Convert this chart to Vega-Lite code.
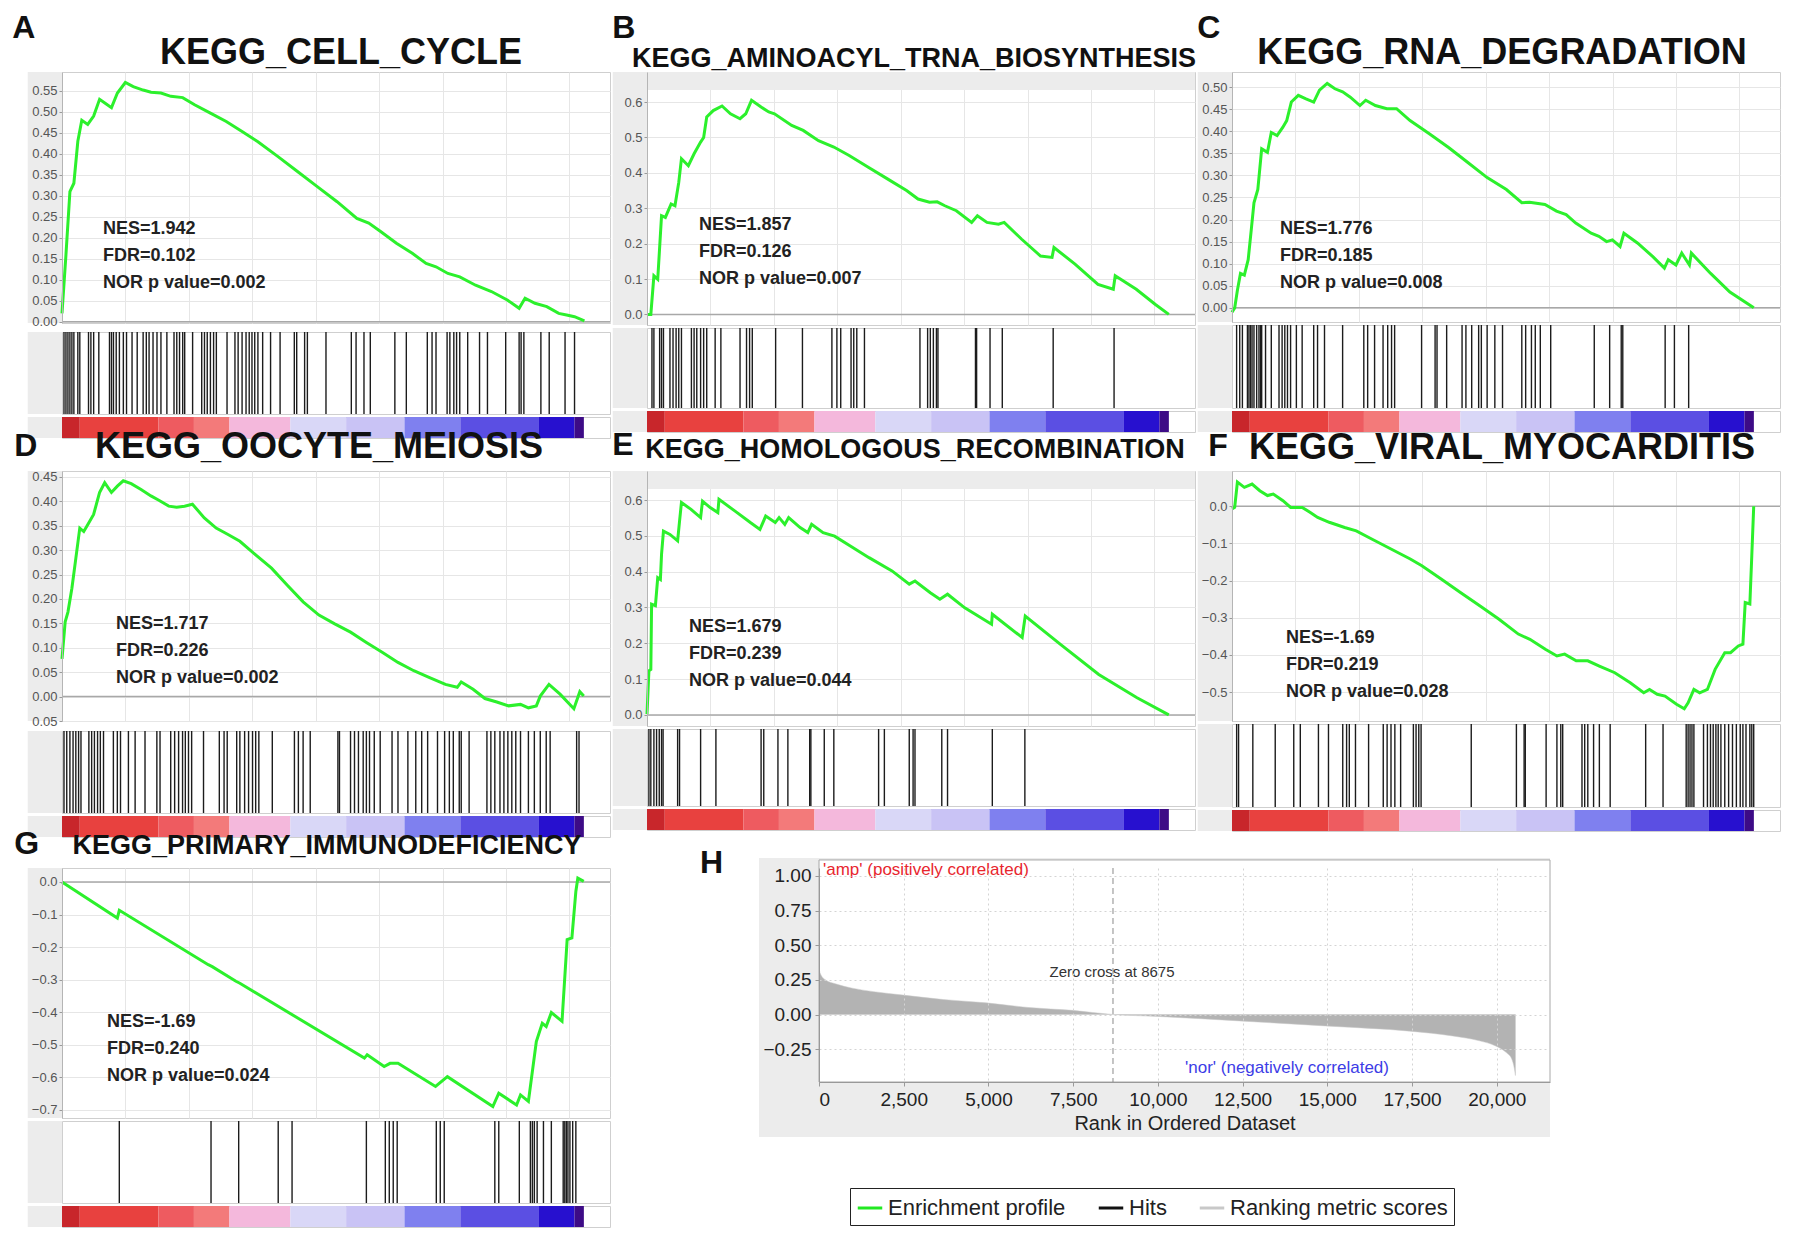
{
  "$schema": "https://vega.github.io/schema/vega-lite/v6.json",
  "padding": {"left": 12, "top": 11, "right": 5, "bottom": 5},
  "background": "white",
  "config": {
    "font": "Liberation Sans",
    "view": {"stroke": "#cfcfcf"},
    "title": {"font": "Liberation Sans", "fontWeight": "bold", "color": "#111111", "anchor": "middle", "frame": "group"},
    "axis": {"labelFont": "Liberation Sans", "labelFontSize": 13, "labelColor": "#555555", "labelOverlap": false, "tickColor": "#9a9a9a", "tickSize": 3, "labelPadding": 2, "domainColor": "#b5b5b5", "gridColor": "#e6e6e6", "titleFont": "Liberation Sans"}
  },
  "datasets": {
    "bar": [
      {"seg": 1, "start": 0, "end": 700},
      {"seg": 2, "start": 700, "end": 3800},
      {"seg": 3, "start": 3800, "end": 5200},
      {"seg": 4, "start": 5200, "end": 6600},
      {"seg": 5, "start": 6600, "end": 9000},
      {"seg": 6, "start": 9000, "end": 11200},
      {"seg": 7, "start": 11200, "end": 13500},
      {"seg": 8, "start": 13500, "end": 15700},
      {"seg": 9, "start": 15700, "end": 18800},
      {"seg": 10, "start": 18800, "end": 20200},
      {"seg": 11, "start": 20200, "end": 20570}
    ],
    "hits": [
      {"p": "A", "r": [78,156,234,312,390,468,624,702,1045,1139,1248,1451,1872,1950,2028,2137,2262,2418,2543,2761,2964,3198,3323,3432,3588,3744,3900,4134,4415,4524,4633,4758,4836,5148,5507,5616,5725,5850,5975,6084,6505,6817,6942,7098,7254,7379,7488,7597,7722,7909,8221,8596,9157,9251,9563,9672,10405,11404,11591,11903,12152,13120,13572,14399,14586,14742,15179,15288,15444,15553,15678,15990,16458,16770,17488,18018,18096,18205,18876,19204,19828,20202]},
      {"p": "B", "r": [196,272,498,573,649,905,1026,1147,1252,1358,1750,1856,1962,2113,2233,2354,2686,2912,3667,3923,4044,4150,5070,6127,7288,7485,7636,8043,8149,8269,8571,10759,11061,11167,11287,11408,11468,12947,12992,13521,14004,16010,18410]},
      {"p": "C", "r": [182,304,410,608,668,729,790,866,972,1063,1124,1170,1322,1549,1853,1975,2081,2187,2309,2537,2765,3220,3372,3646,4360,5195,5347,5620,5954,6137,6289,6410,7473,8005,8081,8461,9068,9220,9448,9722,9828,10056,10360,10663,11423,11575,11803,11954,12152,12562,14279,14886,15342,15403,17073,17438,18000]},
      {"p": "D", "r": [78,187,312,436,545,654,748,1059,1169,1278,1402,1511,1636,2025,2181,2306,2618,2882,3272,3739,3864,4285,4440,4596,4752,4861,4986,5110,5578,6201,6388,6512,6886,7011,7198,7354,7510,7634,7759,8289,9161,9317,9504,9784,10875,10937,11373,11529,11685,11872,11997,12121,12308,12542,13009,13243,13633,13944,14178,14412,14801,15081,15268,15424,15658,15736,16047,16749,16904,17060,17263,17418,17574,17730,17886,18073,18384,18618,18852,19086,19241,20285,20379]},
      {"p": "E", "r": [75,151,272,377,483,573,634,1207,1283,2113,2716,4497,4602,5161,5553,6413,6459,6987,7364,9129,9356,10337,10488,10563,11619,11846,13611,14894]},
      {"p": "F", "r": [183,259,821,1704,2434,2692,3407,3803,4365,4517,4624,4867,5384,5962,6114,6267,6419,6647,7149,7255,7362,7453,9430,11210,11514,11560,12381,12807,12959,13035,13795,13902,14024,14252,14480,14906,16305,16990,17902,17978,18054,18130,18206,18586,18739,18860,18967,19073,19164,19271,19423,19575,19727,19880,20032,20138,20260,20412,20488,20564]},
      {"p": "G", "r": [2259,5874,6964,8522,9068,11997,12744,12900,13056,13212,14754,14910,15066,17060,17216,18026,18462,18540,18618,18728,18977,19288,19755,19818,19880,19942,20020,20129,20254]}
    ],
    "esA": [
      {"r":0,"e":0.02},{"r":156,"e":0.16},{"r":312,"e":0.31},{"r":468,"e":0.33},{"r":624,"e":0.43},{"r":780,"e":0.48},
      {"r":1014,"e":0.47},{"r":1248,"e":0.49},{"r":1482,"e":0.53},{"r":1716,"e":0.52},{"r":1950,"e":0.51},
      {"r":2184,"e":0.545},{"r":2496,"e":0.57},{"r":2808,"e":0.56},{"r":3198,"e":0.552},{"r":3510,"e":0.547},
      {"r":3900,"e":0.545},{"r":4290,"e":0.537},{"r":4758,"e":0.534},{"r":5226,"e":0.517},{"r":5850,"e":0.497},
      {"r":6474,"e":0.477},{"r":7098,"e":0.453},{"r":7722,"e":0.429},{"r":8502,"e":0.394},{"r":9282,"e":0.358},
      {"r":10062,"e":0.322},{"r":10842,"e":0.286},{"r":11622,"e":0.246},{"r":12090,"e":0.235},{"r":12558,"e":0.215},
      {"r":13182,"e":0.187},{"r":13806,"e":0.163},{"r":14352,"e":0.139},{"r":14742,"e":0.131},{"r":15210,"e":0.115},
      {"r":15678,"e":0.107},{"r":16302,"e":0.087},{"r":16926,"e":0.072},{"r":17550,"e":0.052},{"r":18018,"e":0.032},
      {"r":18252,"e":0.056},{"r":18642,"e":0.044},{"r":19110,"e":0.036},{"r":19578,"e":0.02},{"r":19890,"e":0.016},
      {"r":20202,"e":0.012},{"r":20592,"e":0.002}
    ],
    "esB": [
      {"r":0,"e":0},{"r":151,"e":0},{"r":272,"e":0.109},{"r":423,"e":0.099},{"r":573,"e":0.279},{"r":724,"e":0.274},
      {"r":951,"e":0.312},{"r":1102,"e":0.307},{"r":1252,"e":0.373},{"r":1358,"e":0.44},{"r":1630,"e":0.42},
      {"r":1856,"e":0.454},{"r":2113,"e":0.487},{"r":2233,"e":0.5},{"r":2354,"e":0.558},{"r":2611,"e":0.576},
      {"r":2958,"e":0.589},{"r":3290,"e":0.567},{"r":3667,"e":0.553},{"r":3893,"e":0.567},{"r":4120,"e":0.605},
      {"r":4497,"e":0.586},{"r":4799,"e":0.572},{"r":5025,"e":0.567},{"r":5704,"e":0.534},{"r":6157,"e":0.52},
      {"r":6760,"e":0.491},{"r":7364,"e":0.473},{"r":7968,"e":0.449},{"r":8722,"e":0.416},{"r":9477,"e":0.383},
      {"r":10231,"e":0.35},{"r":10684,"e":0.326},{"r":11136,"e":0.317},{"r":11438,"e":0.318},{"r":11740,"e":0.307},
      {"r":12193,"e":0.293},{"r":12796,"e":0.26},{"r":13023,"e":0.279},{"r":13400,"e":0.26},{"r":13853,"e":0.255},
      {"r":14079,"e":0.26},{"r":14758,"e":0.213},{"r":15513,"e":0.165},{"r":15965,"e":0.161},{"r":16041,"e":0.189},
      {"r":16871,"e":0.142},{"r":17776,"e":0.085},{"r":18380,"e":0.071},{"r":18455,"e":0.109},{"r":19285,"e":0.071},
      {"r":20040,"e":0.028},{"r":20568,"e":0}
    ],
    "esC": [
      {"r":0,"e":-0.01},{"r":106,"e":0},{"r":213,"e":0.04},{"r":334,"e":0.078},{"r":486,"e":0.074},{"r":638,"e":0.109},
      {"r":760,"e":0.177},{"r":866,"e":0.238},{"r":1018,"e":0.268},{"r":1170,"e":0.36},{"r":1397,"e":0.352},
      {"r":1549,"e":0.397},{"r":1777,"e":0.39},{"r":2005,"e":0.409},{"r":2157,"e":0.424},{"r":2339,"e":0.466},
      {"r":2613,"e":0.481},{"r":2916,"e":0.473},{"r":3220,"e":0.466},{"r":3448,"e":0.493},{"r":3752,"e":0.508},
      {"r":4056,"e":0.496},{"r":4360,"e":0.489},{"r":4663,"e":0.477},{"r":5043,"e":0.458},{"r":5271,"e":0.47},
      {"r":5651,"e":0.458},{"r":6106,"e":0.451},{"r":6486,"e":0.451},{"r":7018,"e":0.424},{"r":7777,"e":0.394},
      {"r":8537,"e":0.363},{"r":9296,"e":0.329},{"r":10056,"e":0.295},{"r":10815,"e":0.268},{"r":11423,"e":0.238},
      {"r":11727,"e":0.239},{"r":12334,"e":0.234},{"r":12790,"e":0.219},{"r":13170,"e":0.211},{"r":13549,"e":0.192},
      {"r":14157,"e":0.169},{"r":14461,"e":0.162},{"r":14765,"e":0.15},{"r":14992,"e":0.154},{"r":15296,"e":0.139},
      {"r":15448,"e":0.169},{"r":15980,"e":0.147},{"r":16587,"e":0.116},{"r":17043,"e":0.09},{"r":17195,"e":0.109},
      {"r":17499,"e":0.097},{"r":17727,"e":0.124},{"r":18030,"e":0.097},{"r":18106,"e":0.124},{"r":18866,"e":0.078},
      {"r":19625,"e":0.036},{"r":20567,"e":0}
    ],
    "esD": [
      {"r":0,"e":0.077},{"r":125,"e":0.153},{"r":234,"e":0.173},{"r":390,"e":0.222},{"r":545,"e":0.283},{"r":701,"e":0.345},
      {"r":857,"e":0.338},{"r":1013,"e":0.352},{"r":1246,"e":0.373},{"r":1480,"e":0.418},{"r":1683,"e":0.438},
      {"r":1948,"e":0.418},{"r":2181,"e":0.431},{"r":2415,"e":0.442},{"r":2727,"e":0.436},{"r":3116,"e":0.424},
      {"r":3506,"e":0.411},{"r":3817,"e":0.402},{"r":4207,"e":0.39},{"r":4518,"e":0.388},{"r":4830,"e":0.39},
      {"r":5141,"e":0.394},{"r":5609,"e":0.366},{"r":6076,"e":0.345},{"r":6544,"e":0.332},{"r":7011,"e":0.318},
      {"r":7634,"e":0.29},{"r":8258,"e":0.263},{"r":8881,"e":0.228},{"r":9504,"e":0.194},{"r":10127,"e":0.167},
      {"r":10750,"e":0.149},{"r":11373,"e":0.132},{"r":11997,"e":0.111},{"r":12620,"e":0.091},{"r":13243,"e":0.07},
      {"r":13866,"e":0.053},{"r":14489,"e":0.039},{"r":15113,"e":0.025},{"r":15580,"e":0.019},{"r":15736,"e":0.03},
      {"r":16203,"e":0.015},{"r":16671,"e":-0.004},{"r":17138,"e":-0.011},{"r":17605,"e":-0.019},{"r":18073,"e":-0.016},
      {"r":18384,"e":-0.023},{"r":18696,"e":-0.019},{"r":18852,"e":0.001},{"r":19194,"e":0.025},{"r":19631,"e":0.005},
      {"r":20176,"e":-0.025},{"r":20410,"e":0.01},{"r":20566,"e":0.001}
    ],
    "esE": [
      {"r":0,"e":0.002},{"r":75,"e":0.123},{"r":151,"e":0.127},{"r":181,"e":0.309},{"r":332,"e":0.305},{"r":423,"e":0.383},
      {"r":528,"e":0.378},{"r":573,"e":0.448},{"r":649,"e":0.513},{"r":905,"e":0.504},{"r":1207,"e":0.486},
      {"r":1283,"e":0.541},{"r":1358,"e":0.593},{"r":1735,"e":0.574},{"r":2113,"e":0.551},{"r":2188,"e":0.597},
      {"r":2490,"e":0.579},{"r":2792,"e":0.565},{"r":2837,"e":0.602},{"r":3471,"e":0.569},{"r":4074,"e":0.537},
      {"r":4452,"e":0.518},{"r":4678,"e":0.555},{"r":5055,"e":0.537},{"r":5206,"e":0.551},{"r":5432,"e":0.532},
      {"r":5583,"e":0.551},{"r":6036,"e":0.523},{"r":6338,"e":0.509},{"r":6489,"e":0.532},{"r":6941,"e":0.509},
      {"r":7394,"e":0.499},{"r":7998,"e":0.472},{"r":8752,"e":0.439},{"r":9658,"e":0.402},{"r":10337,"e":0.365},
      {"r":10563,"e":0.374},{"r":11167,"e":0.341},{"r":11544,"e":0.323},{"r":11846,"e":0.337},{"r":12525,"e":0.299},
      {"r":13581,"e":0.253},{"r":13611,"e":0.281},{"r":14788,"e":0.216},{"r":14909,"e":0.276},{"r":16297,"e":0.197},
      {"r":17806,"e":0.113},{"r":19315,"e":0.048},{"r":20567,"e":0}
    ],
    "esF": [
      {"r":0,"e":-0.007},{"r":106,"e":-0.003},{"r":213,"e":0.065},{"r":487,"e":0.051},{"r":791,"e":0.06},{"r":1095,"e":0.042},
      {"r":1399,"e":0.029},{"r":1627,"e":0.033},{"r":2008,"e":0.015},{"r":2312,"e":-0.003},{"r":2768,"e":-0.003},
      {"r":3072,"e":-0.016},{"r":3377,"e":-0.03},{"r":3833,"e":-0.043},{"r":4441,"e":-0.057},{"r":4898,"e":-0.066},
      {"r":5506,"e":-0.088},{"r":6267,"e":-0.115},{"r":7027,"e":-0.142},{"r":7483,"e":-0.16},{"r":8244,"e":-0.196},
      {"r":9004,"e":-0.232},{"r":9765,"e":-0.268},{"r":10525,"e":-0.304},{"r":11286,"e":-0.344},{"r":11742,"e":-0.358},
      {"r":12351,"e":-0.385},{"r":12807,"e":-0.403},{"r":13111,"e":-0.398},{"r":13567,"e":-0.416},{"r":14024,"e":-0.416},
      {"r":14480,"e":-0.43},{"r":15088,"e":-0.448},{"r":15697,"e":-0.475},{"r":16229,"e":-0.502},{"r":16457,"e":-0.493},
      {"r":16761,"e":-0.506},{"r":17066,"e":-0.511},{"r":17522,"e":-0.533},{"r":17826,"e":-0.545},{"r":17978,"e":-0.529},
      {"r":18206,"e":-0.493},{"r":18435,"e":-0.502},{"r":18739,"e":-0.493},{"r":19043,"e":-0.439},{"r":19423,"e":-0.394},
      {"r":19651,"e":-0.394},{"r":19956,"e":-0.376},{"r":20138,"e":-0.371},{"r":20229,"e":-0.259},{"r":20412,"e":-0.263},
      {"r":20488,"e":-0.133},{"r":20564,"e":0}
    ],
    "esG": [
      {"r":0,"e":0},{"r":2181,"e":-0.111},{"r":2259,"e":-0.087},{"r":5765,"e":-0.254},{"r":5921,"e":-0.26},
      {"r":6855,"e":-0.305},{"r":7011,"e":-0.311},{"r":11919,"e":-0.541},{"r":12028,"e":-0.531},{"r":12698,"e":-0.567},
      {"r":12931,"e":-0.557},{"r":13243,"e":-0.557},{"r":14723,"e":-0.628},{"r":15191,"e":-0.598},{"r":16982,"e":-0.69},
      {"r":17216,"e":-0.649},{"r":17917,"e":-0.685},{"r":18073,"e":-0.654},{"r":18384,"e":-0.674},{"r":18696,"e":-0.49},
      {"r":18930,"e":-0.434},{"r":19086,"e":-0.444},{"r":19288,"e":-0.401},{"r":19709,"e":-0.428},{"r":19911,"e":-0.177},
      {"r":20098,"e":-0.172},{"r":20254,"e":-0.029},{"r":20332,"e":0.012},{"r":20566,"e":0.002}
    ],
    "metric": [
      {"r":0,"s":0.34},{"r":32,"s":0.3},{"r":190,"s":0.25},{"r":506,"s":0.22},{"r":981,"s":0.19},{"r":1614,"s":0.165},
      {"r":2484,"s":0.14},{"r":3670,"s":0.108},{"r":4936,"s":0.084},{"r":6202,"s":0.05},{"r":7468,"s":0.03},
      {"r":8675,"s":0},{"r":10000,"s":-0.014},{"r":12529,"s":-0.048},{"r":15061,"s":-0.084},{"r":17432,"s":-0.12},
      {"r":18699,"s":-0.155},{"r":19490,"s":-0.19},{"r":19965,"s":-0.227},{"r":20281,"s":-0.275},{"r":20439,"s":-0.32},
      {"r":20518,"s":-0.39},{"r":20550,"s":-0.44}
    ]
  },
  "resolve": {"scale": {"fill": "independent", "stroke": "independent"}, "legend": {"fill": "independent", "stroke": "independent"}},
  "spacing": -11,
  "vconcat": [
    {
      "spacing": 0,
      "hconcat": [
        {
          "title": {"text": "A", "anchor": "start", "frame": "bounds", "fontSize": 32, "offset": -10, "dx": -15},
          "spacing": 0,
          "vconcat": [
            {
              "title": {"text": "KEGG_CELL_CYCLE", "fontSize": 36, "offset": 0, "dx": 5},
              "width": 548, "height": 251,
              "resolve": {"axis": {"y": "independent"}},
              "layer": [
                {"data": {"values": [{"a": -1350, "b": 0}]}, "mark": {"type": "rect", "color": "#ececec"},
                 "encoding": {"x": {"field": "a", "type": "quantitative", "scale": {"domain": [0, 21600], "nice": false, "zero": false}}, "x2": {"field": "b"}}},
                {"data": {"values": [{}]}, "mark": {"type": "rule", "color": "#a8a8a8", "strokeWidth": 1.5},
                 "encoding": {"y": {"datum": 0, "type": "quantitative", "scale": {"domain": [-0.003, 0.595], "nice": false, "zero": false}, "axis": {"orient": "left", "values": [0,0.05,0.1,0.15,0.2,0.25,0.3,0.35,0.4,0.45,0.5,0.55], "grid": true, "labels": false, "ticks": false, "domain": false, "title": null, "zindex": 0}}}},
                {"data": {"name": "esA"}, "mark": {"type": "line", "color": "#2cf02c", "strokeWidth": 3},
                 "encoding": {
                   "x": {"field": "r", "type": "quantitative", "scale": {"domain": [0, 21600], "nice": false, "zero": false}, "axis": {"values": [2500,5000,7500,10000,12500,15000,17500,20000], "labels": false, "ticks": false, "domain": false, "grid": true, "title": null, "zindex": 0}},
                   "y": {"field": "e", "type": "quantitative", "scale": {"domain": [-0.003, 0.595], "nice": false, "zero": false}, "axis": {"orient": "left", "values": [0,0.05,0.1,0.15,0.2,0.25,0.3,0.35,0.4,0.45,0.5,0.55], "format": ".2f", "labelOverlap": false, "grid": false, "title": null, "zindex": 1}}}},
                {"data": {"values": [{}]}, "mark": {"type": "text", "align": "left", "baseline": "middle", "fontSize": 18, "fontWeight": "bold", "lineHeight": 27, "color": "#222222"},
                 "encoding": {"x": {"datum": 1616, "type": "quantitative", "scale": {"domain": [0, 21600], "nice": false, "zero": false}}, "text": {"value": ["NES=1.942", "FDR=0.102", "NOR p value=0.002"]},
                   "y": {"datum": 0.221, "type": "quantitative", "scale": {"domain": [-0.003, 0.595], "nice": false, "zero": false}, "axis": null}}}
              ]
            },
            {
              "width": 548, "height": 82,
              "layer": [
                {"data": {"values": [{"a": -1350, "b": 0}]}, "mark": {"type": "rect", "color": "#ececec"},
                 "encoding": {"x": {"field": "a", "type": "quantitative", "scale": {"domain": [0, 21600], "nice": false, "zero": false}, "axis": null}, "x2": {"field": "b"}}},
                {"data": {"name": "hits"}, "transform": [{"filter": "datum.p == 'A'"}, {"flatten": ["r"]}], "mark": {"type": "rule", "color": "#1c1c1c", "strokeWidth": 1.4},
                 "encoding": {"x": {"field": "r", "type": "quantitative", "scale": {"domain": [0, 21600], "nice": false, "zero": false}, "axis": null}}}
              ]
            },
            {
              "width": 548, "height": 21,
              "layer": [
                {"data": {"values": [{"a": -1350, "b": 0}]}, "mark": {"type": "rect", "color": "#ececec"},
                 "encoding": {"x": {"field": "a", "type": "quantitative", "scale": {"domain": [0, 21600], "nice": false, "zero": false}, "axis": null}, "x2": {"field": "b"}}},
                {"data": {"name": "bar"}, "mark": {"type": "rect"},
                 "encoding": {"x": {"field": "start", "type": "quantitative", "scale": {"domain": [0, 21600], "nice": false, "zero": false}, "axis": null}, "x2": {"field": "end"},
                   "fill": {"field": "seg", "type": "ordinal", "scale": {"domain": [1,2,3,4,5,6,7,8,9,10,11], "range": ["#c8262b","#e8413f","#ee5b60","#f37a7a","#f4b8dc","#d9d7f7","#c9c3f5","#7f80ef","#5b4fe3","#2710cf","#3d0b86"]}, "legend": null}}}
              ]
            }
          ]
        },
        {
          "title": {"text": "B", "anchor": "start", "frame": "bounds", "fontSize": 32, "offset": 0},
          "spacing": 0,
          "vconcat": [
            {
              "title": {"text": "KEGG_AMINOACYL_TRNA_BIOSYNTHESIS", "fontSize": 27, "offset": -1, "dx": -7},
              "width": 548, "height": 253,
              "resolve": {"axis": {"y": "independent"}},
              "layer": [
                {"data": {"values": [{"a": -1350, "b": 0}]}, "mark": {"type": "rect", "color": "#ececec"},
                 "encoding": {"x": {"field": "a", "type": "quantitative", "scale": {"domain": [0, 21600], "nice": false, "zero": false}}, "x2": {"field": "b"}}},
                {"data": {"values": [{"a": 0, "b": 21600, "c": 0.634, "d": 0.685}]}, "mark": {"type": "rect", "color": "#ececec"},
                 "encoding": {"x": {"field": "a", "type": "quantitative", "scale": {"domain": [0, 21600], "nice": false, "zero": false}}, "x2": {"field": "b"}, "y": {"field": "c", "type": "quantitative", "scale": {"domain": [-0.03, 0.685], "nice": false, "zero": false}, "axis": null}, "y2": {"field": "d"}}},
                {"data": {"values": [{}]}, "mark": {"type": "rule", "color": "#a8a8a8", "strokeWidth": 1.5},
                 "encoding": {"y": {"datum": 0, "type": "quantitative", "scale": {"domain": [-0.03, 0.685], "nice": false, "zero": false}, "axis": {"orient": "left", "values": [0,0.1,0.2,0.3,0.4,0.5,0.6], "grid": true, "labels": false, "ticks": false, "domain": false, "title": null, "zindex": 0}}}},
                {"data": {"name": "esB"}, "mark": {"type": "line", "color": "#2cf02c", "strokeWidth": 3},
                 "encoding": {
                   "x": {"field": "r", "type": "quantitative", "scale": {"domain": [0, 21600], "nice": false, "zero": false}, "axis": {"values": [2500,5000,7500,10000,12500,15000,17500,20000], "labels": false, "ticks": false, "domain": false, "grid": true, "title": null, "zindex": 0}},
                   "y": {"field": "e", "type": "quantitative", "scale": {"domain": [-0.03, 0.685], "nice": false, "zero": false}, "axis": {"orient": "left", "values": [0,0.1,0.2,0.3,0.4,0.5,0.6], "format": ".1f", "labelOverlap": false, "grid": false, "title": null, "zindex": 1}}}},
                {"data": {"values": [{}]}, "mark": {"type": "text", "align": "left", "baseline": "middle", "fontSize": 18, "fontWeight": "bold", "lineHeight": 27, "color": "#222222"},
                 "encoding": {"x": {"datum": 2050, "type": "quantitative", "scale": {"domain": [0, 21600], "nice": false, "zero": false}}, "text": {"value": ["NES=1.857", "FDR=0.126", "NOR p value=0.007"]},
                   "y": {"datum": 0.252, "type": "quantitative", "scale": {"domain": [-0.03, 0.685], "nice": false, "zero": false}, "axis": null}}}
              ]
            },
            {
              "width": 548, "height": 80,
              "layer": [
                {"data": {"values": [{"a": -1350, "b": 0}]}, "mark": {"type": "rect", "color": "#ececec"},
                 "encoding": {"x": {"field": "a", "type": "quantitative", "scale": {"domain": [0, 21600], "nice": false, "zero": false}, "axis": null}, "x2": {"field": "b"}}},
                {"data": {"name": "hits"}, "transform": [{"filter": "datum.p == 'B'"}, {"flatten": ["r"]}], "mark": {"type": "rule", "color": "#1c1c1c", "strokeWidth": 1.4},
                 "encoding": {"x": {"field": "r", "type": "quantitative", "scale": {"domain": [0, 21600], "nice": false, "zero": false}, "axis": null}}}
              ]
            },
            {
              "width": 548, "height": 21,
              "layer": [
                {"data": {"values": [{"a": -1350, "b": 0}]}, "mark": {"type": "rect", "color": "#ececec"},
                 "encoding": {"x": {"field": "a", "type": "quantitative", "scale": {"domain": [0, 21600], "nice": false, "zero": false}, "axis": null}, "x2": {"field": "b"}}},
                {"data": {"name": "bar"}, "mark": {"type": "rect"},
                 "encoding": {"x": {"field": "start", "type": "quantitative", "scale": {"domain": [0, 21600], "nice": false, "zero": false}, "axis": null}, "x2": {"field": "end"},
                   "fill": {"field": "seg", "type": "ordinal", "scale": {"domain": [1,2,3,4,5,6,7,8,9,10,11], "range": ["#c8262b","#e8413f","#ee5b60","#f37a7a","#f4b8dc","#d9d7f7","#c9c3f5","#7f80ef","#5b4fe3","#2710cf","#3d0b86"]}, "legend": null}}}
              ]
            }
          ]
        },
        {
          "title": {"text": "C", "anchor": "start", "frame": "bounds", "fontSize": 32, "offset": -10},
          "spacing": 0,
          "vconcat": [
            {
              "title": {"text": "KEGG_RNA_DEGRADATION", "fontSize": 36, "offset": 0, "dx": -4},
              "width": 548, "height": 250,
              "resolve": {"axis": {"y": "independent"}},
              "layer": [
                {"data": {"values": [{"a": -1350, "b": 0}]}, "mark": {"type": "rect", "color": "#ececec"},
                 "encoding": {"x": {"field": "a", "type": "quantitative", "scale": {"domain": [0, 21600], "nice": false, "zero": false}}, "x2": {"field": "b"}}},
                {"data": {"values": [{}]}, "mark": {"type": "rule", "color": "#a8a8a8", "strokeWidth": 1.5},
                 "encoding": {"y": {"datum": 0, "type": "quantitative", "scale": {"domain": [-0.032, 0.534], "nice": false, "zero": false}, "axis": {"orient": "left", "values": [0,0.05,0.1,0.15,0.2,0.25,0.3,0.35,0.4,0.45,0.5], "grid": true, "labels": false, "ticks": false, "domain": false, "title": null, "zindex": 0}}}},
                {"data": {"name": "esC"}, "mark": {"type": "line", "color": "#2cf02c", "strokeWidth": 3},
                 "encoding": {
                   "x": {"field": "r", "type": "quantitative", "scale": {"domain": [0, 21600], "nice": false, "zero": false}, "axis": {"values": [2500,5000,7500,10000,12500,15000,17500,20000], "labels": false, "ticks": false, "domain": false, "grid": true, "title": null, "zindex": 0}},
                   "y": {"field": "e", "type": "quantitative", "scale": {"domain": [-0.032, 0.534], "nice": false, "zero": false}, "axis": {"orient": "left", "values": [0,0.05,0.1,0.15,0.2,0.25,0.3,0.35,0.4,0.45,0.5], "format": ".2f", "labelOverlap": false, "grid": false, "title": null, "zindex": 1}}}},
                {"data": {"values": [{}]}, "mark": {"type": "text", "align": "left", "baseline": "middle", "fontSize": 18, "fontWeight": "bold", "lineHeight": 27, "color": "#222222"},
                 "encoding": {"x": {"datum": 1892, "type": "quantitative", "scale": {"domain": [0, 21600], "nice": false, "zero": false}}, "text": {"value": ["NES=1.776", "FDR=0.185", "NOR p value=0.008"]},
                   "y": {"datum": 0.178, "type": "quantitative", "scale": {"domain": [-0.032, 0.534], "nice": false, "zero": false}, "axis": null}}}
              ]
            },
            {
              "width": 548, "height": 83,
              "layer": [
                {"data": {"values": [{"a": -1350, "b": 0}]}, "mark": {"type": "rect", "color": "#ececec"},
                 "encoding": {"x": {"field": "a", "type": "quantitative", "scale": {"domain": [0, 21600], "nice": false, "zero": false}, "axis": null}, "x2": {"field": "b"}}},
                {"data": {"name": "hits"}, "transform": [{"filter": "datum.p == 'C'"}, {"flatten": ["r"]}], "mark": {"type": "rule", "color": "#1c1c1c", "strokeWidth": 1.4},
                 "encoding": {"x": {"field": "r", "type": "quantitative", "scale": {"domain": [0, 21600], "nice": false, "zero": false}, "axis": null}}}
              ]
            },
            {
              "width": 548, "height": 21,
              "layer": [
                {"data": {"values": [{"a": -1350, "b": 0}]}, "mark": {"type": "rect", "color": "#ececec"},
                 "encoding": {"x": {"field": "a", "type": "quantitative", "scale": {"domain": [0, 21600], "nice": false, "zero": false}, "axis": null}, "x2": {"field": "b"}}},
                {"data": {"name": "bar"}, "mark": {"type": "rect"},
                 "encoding": {"x": {"field": "start", "type": "quantitative", "scale": {"domain": [0, 21600], "nice": false, "zero": false}, "axis": null}, "x2": {"field": "end"},
                   "fill": {"field": "seg", "type": "ordinal", "scale": {"domain": [1,2,3,4,5,6,7,8,9,10,11], "range": ["#c8262b","#e8413f","#ee5b60","#f37a7a","#f4b8dc","#d9d7f7","#c9c3f5","#7f80ef","#5b4fe3","#2710cf","#3d0b86"]}, "legend": null}}}
              ]
            }
          ]
        }
      ]
    },
    {
      "spacing": 0,
      "hconcat": [
        {
          "title": {"text": "D", "anchor": "start", "frame": "bounds", "fontSize": 32, "offset": -35, "dx": -13},
          "spacing": 0,
          "vconcat": [
            {
              "title": {"text": "KEGG_OOCYTE_MEIOSIS", "fontSize": 36, "offset": 5, "dx": -17},
              "width": 548, "height": 250,
              "resolve": {"axis": {"y": "independent"}},
              "layer": [
                {"data": {"values": [{"a": -1350, "b": 0}]}, "mark": {"type": "rect", "color": "#ececec"},
                 "encoding": {"x": {"field": "a", "type": "quantitative", "scale": {"domain": [0, 21600], "nice": false, "zero": false}}, "x2": {"field": "b"}}},
                {"data": {"values": [{}]}, "mark": {"type": "rule", "color": "#a8a8a8", "strokeWidth": 1.5},
                 "encoding": {"y": {"datum": 0, "type": "quantitative", "scale": {"domain": [-0.05, 0.462], "nice": false, "zero": false}, "axis": {"orient": "left", "values": [-0.05,0,0.05,0.1,0.15,0.2,0.25,0.3,0.35,0.4,0.45], "grid": true, "labels": false, "ticks": false, "domain": false, "title": null, "zindex": 0}}}},
                {"data": {"name": "esD"}, "mark": {"type": "line", "color": "#2cf02c", "strokeWidth": 3},
                 "encoding": {
                   "x": {"field": "r", "type": "quantitative", "scale": {"domain": [0, 21600], "nice": false, "zero": false}, "axis": {"values": [2500,5000,7500,10000,12500,15000,17500,20000], "labels": false, "ticks": false, "domain": false, "grid": true, "title": null, "zindex": 0}},
                   "y": {"field": "e", "type": "quantitative", "scale": {"domain": [-0.05, 0.462], "nice": false, "zero": false}, "axis": {"orient": "left", "values": [-0.05,0,0.05,0.1,0.15,0.2,0.25,0.3,0.35,0.4,0.45], "labelExpr": "format(abs(datum.value), '.2f')", "labelOverlap": false, "grid": false, "title": null, "zindex": 1}}}},
                {"data": {"values": [{}]}, "mark": {"type": "text", "align": "left", "baseline": "middle", "fontSize": 18, "fontWeight": "bold", "lineHeight": 27, "color": "#222222"},
                 "encoding": {"x": {"datum": 2128, "type": "quantitative", "scale": {"domain": [0, 21600], "nice": false, "zero": false}}, "text": {"value": ["NES=1.717", "FDR=0.226", "NOR p value=0.002"]},
                   "y": {"datum": 0.148, "type": "quantitative", "scale": {"domain": [-0.05, 0.462], "nice": false, "zero": false}, "axis": null}}}
              ]
            },
            {
              "width": 548, "height": 82,
              "layer": [
                {"data": {"values": [{"a": -1350, "b": 0}]}, "mark": {"type": "rect", "color": "#ececec"},
                 "encoding": {"x": {"field": "a", "type": "quantitative", "scale": {"domain": [0, 21600], "nice": false, "zero": false}, "axis": null}, "x2": {"field": "b"}}},
                {"data": {"name": "hits"}, "transform": [{"filter": "datum.p == 'D'"}, {"flatten": ["r"]}], "mark": {"type": "rule", "color": "#1c1c1c", "strokeWidth": 1.4},
                 "encoding": {"x": {"field": "r", "type": "quantitative", "scale": {"domain": [0, 21600], "nice": false, "zero": false}, "axis": null}}}
              ]
            },
            {
              "width": 548, "height": 21,
              "layer": [
                {"data": {"values": [{"a": -1350, "b": 0}]}, "mark": {"type": "rect", "color": "#ececec"},
                 "encoding": {"x": {"field": "a", "type": "quantitative", "scale": {"domain": [0, 21600], "nice": false, "zero": false}, "axis": null}, "x2": {"field": "b"}}},
                {"data": {"name": "bar"}, "mark": {"type": "rect"},
                 "encoding": {"x": {"field": "start", "type": "quantitative", "scale": {"domain": [0, 21600], "nice": false, "zero": false}, "axis": null}, "x2": {"field": "end"},
                   "fill": {"field": "seg", "type": "ordinal", "scale": {"domain": [1,2,3,4,5,6,7,8,9,10,11], "range": ["#c8262b","#e8413f","#ee5b60","#f37a7a","#f4b8dc","#d9d7f7","#c9c3f5","#7f80ef","#5b4fe3","#2710cf","#3d0b86"]}, "legend": null}}}
              ]
            }
          ]
        },
        {
          "title": {"text": "E", "anchor": "start", "frame": "bounds", "fontSize": 32, "offset": -26},
          "spacing": 0,
          "vconcat": [
            {
              "title": {"text": "KEGG_HOMOLOGOUS_RECOMBINATION", "fontSize": 27, "offset": 7, "dx": -6},
              "width": 548, "height": 255,
              "resolve": {"axis": {"y": "independent"}},
              "layer": [
                {"data": {"values": [{"a": -1350, "b": 0}]}, "mark": {"type": "rect", "color": "#ececec"},
                 "encoding": {"x": {"field": "a", "type": "quantitative", "scale": {"domain": [0, 21600], "nice": false, "zero": false}}, "x2": {"field": "b"}}},
                {"data": {"values": [{"a": 0, "b": 21600, "c": 0.631, "d": 0.681}]}, "mark": {"type": "rect", "color": "#ececec"},
                 "encoding": {"x": {"field": "a", "type": "quantitative", "scale": {"domain": [0, 21600], "nice": false, "zero": false}}, "x2": {"field": "b"}, "y": {"field": "c", "type": "quantitative", "scale": {"domain": [-0.031, 0.681], "nice": false, "zero": false}, "axis": null}, "y2": {"field": "d"}}},
                {"data": {"values": [{}]}, "mark": {"type": "rule", "color": "#a8a8a8", "strokeWidth": 1.5},
                 "encoding": {"y": {"datum": 0, "type": "quantitative", "scale": {"domain": [-0.031, 0.681], "nice": false, "zero": false}, "axis": {"orient": "left", "values": [0,0.1,0.2,0.3,0.4,0.5,0.6], "grid": true, "labels": false, "ticks": false, "domain": false, "title": null, "zindex": 0}}}},
                {"data": {"name": "esE"}, "mark": {"type": "line", "color": "#2cf02c", "strokeWidth": 3},
                 "encoding": {
                   "x": {"field": "r", "type": "quantitative", "scale": {"domain": [0, 21600], "nice": false, "zero": false}, "axis": {"values": [2500,5000,7500,10000,12500,15000,17500,20000], "labels": false, "ticks": false, "domain": false, "grid": true, "title": null, "zindex": 0}},
                   "y": {"field": "e", "type": "quantitative", "scale": {"domain": [-0.031, 0.681], "nice": false, "zero": false}, "axis": {"orient": "left", "values": [0,0.1,0.2,0.3,0.4,0.5,0.6], "format": ".1f", "labelOverlap": false, "grid": false, "title": null, "zindex": 1}}}},
                {"data": {"values": [{}]}, "mark": {"type": "text", "align": "left", "baseline": "middle", "fontSize": 18, "fontWeight": "bold", "lineHeight": 27, "color": "#222222"},
                 "encoding": {"x": {"datum": 1656, "type": "quantitative", "scale": {"domain": [0, 21600], "nice": false, "zero": false}}, "text": {"value": ["NES=1.679", "FDR=0.239", "NOR p value=0.044"]},
                   "y": {"datum": 0.245, "type": "quantitative", "scale": {"domain": [-0.031, 0.681], "nice": false, "zero": false}, "axis": null}}}
              ]
            },
            {
              "width": 548, "height": 77,
              "layer": [
                {"data": {"values": [{"a": -1350, "b": 0}]}, "mark": {"type": "rect", "color": "#ececec"},
                 "encoding": {"x": {"field": "a", "type": "quantitative", "scale": {"domain": [0, 21600], "nice": false, "zero": false}, "axis": null}, "x2": {"field": "b"}}},
                {"data": {"name": "hits"}, "transform": [{"filter": "datum.p == 'E'"}, {"flatten": ["r"]}], "mark": {"type": "rule", "color": "#1c1c1c", "strokeWidth": 1.4},
                 "encoding": {"x": {"field": "r", "type": "quantitative", "scale": {"domain": [0, 21600], "nice": false, "zero": false}, "axis": null}}}
              ]
            },
            {
              "width": 548, "height": 21,
              "layer": [
                {"data": {"values": [{"a": -1350, "b": 0}]}, "mark": {"type": "rect", "color": "#ececec"},
                 "encoding": {"x": {"field": "a", "type": "quantitative", "scale": {"domain": [0, 21600], "nice": false, "zero": false}, "axis": null}, "x2": {"field": "b"}}},
                {"data": {"name": "bar"}, "mark": {"type": "rect"},
                 "encoding": {"x": {"field": "start", "type": "quantitative", "scale": {"domain": [0, 21600], "nice": false, "zero": false}, "axis": null}, "x2": {"field": "end"},
                   "fill": {"field": "seg", "type": "ordinal", "scale": {"domain": [1,2,3,4,5,6,7,8,9,10,11], "range": ["#c8262b","#e8413f","#ee5b60","#f37a7a","#f4b8dc","#d9d7f7","#c9c3f5","#7f80ef","#5b4fe3","#2710cf","#3d0b86"]}, "legend": null}}}
              ]
            }
          ]
        },
        {
          "title": {"text": "F", "anchor": "start", "frame": "bounds", "fontSize": 32, "offset": -33, "dx": 11},
          "spacing": 0,
          "vconcat": [
            {
              "title": {"text": "KEGG_VIRAL_MYOCARDITIS", "fontSize": 36, "offset": 4, "dx": -4},
              "width": 548, "height": 250,
              "resolve": {"axis": {"y": "independent"}},
              "layer": [
                {"data": {"values": [{"a": -1350, "b": 0}]}, "mark": {"type": "rect", "color": "#ececec"},
                 "encoding": {"x": {"field": "a", "type": "quantitative", "scale": {"domain": [0, 21600], "nice": false, "zero": false}}, "x2": {"field": "b"}}},
                {"data": {"values": [{}]}, "mark": {"type": "rule", "color": "#a8a8a8", "strokeWidth": 1.5},
                 "encoding": {"y": {"datum": 0, "type": "quantitative", "scale": {"domain": [-0.578, 0.095], "nice": false, "zero": false}, "axis": {"orient": "left", "values": [-0.5,-0.4,-0.3,-0.2,-0.1,0], "grid": true, "labels": false, "ticks": false, "domain": false, "title": null, "zindex": 0}}}},
                {"data": {"name": "esF"}, "mark": {"type": "line", "color": "#2cf02c", "strokeWidth": 3},
                 "encoding": {
                   "x": {"field": "r", "type": "quantitative", "scale": {"domain": [0, 21600], "nice": false, "zero": false}, "axis": {"values": [2500,5000,7500,10000,12500,15000,17500,20000], "labels": false, "ticks": false, "domain": false, "grid": true, "title": null, "zindex": 0}},
                   "y": {"field": "e", "type": "quantitative", "scale": {"domain": [-0.578, 0.095], "nice": false, "zero": false}, "axis": {"orient": "left", "values": [-0.5,-0.4,-0.3,-0.2,-0.1,0], "format": ".1f", "labelOverlap": false, "grid": false, "title": null, "zindex": 1}}}},
                {"data": {"values": [{}]}, "mark": {"type": "text", "align": "left", "baseline": "middle", "fontSize": 18, "fontWeight": "bold", "lineHeight": 27, "color": "#222222"},
                 "encoding": {"x": {"datum": 2128, "type": "quantitative", "scale": {"domain": [0, 21600], "nice": false, "zero": false}}, "text": {"value": ["NES=-1.69", "FDR=0.219", "NOR p value=0.028"]},
                   "y": {"datum": -0.354, "type": "quantitative", "scale": {"domain": [-0.578, 0.095], "nice": false, "zero": false}, "axis": null}}}
              ]
            },
            {
              "width": 548, "height": 83,
              "layer": [
                {"data": {"values": [{"a": -1350, "b": 0}]}, "mark": {"type": "rect", "color": "#ececec"},
                 "encoding": {"x": {"field": "a", "type": "quantitative", "scale": {"domain": [0, 21600], "nice": false, "zero": false}, "axis": null}, "x2": {"field": "b"}}},
                {"data": {"name": "hits"}, "transform": [{"filter": "datum.p == 'F'"}, {"flatten": ["r"]}], "mark": {"type": "rule", "color": "#1c1c1c", "strokeWidth": 1.4},
                 "encoding": {"x": {"field": "r", "type": "quantitative", "scale": {"domain": [0, 21600], "nice": false, "zero": false}, "axis": null}}}
              ]
            },
            {
              "width": 548, "height": 21,
              "layer": [
                {"data": {"values": [{"a": -1350, "b": 0}]}, "mark": {"type": "rect", "color": "#ececec"},
                 "encoding": {"x": {"field": "a", "type": "quantitative", "scale": {"domain": [0, 21600], "nice": false, "zero": false}, "axis": null}, "x2": {"field": "b"}}},
                {"data": {"name": "bar"}, "mark": {"type": "rect"},
                 "encoding": {"x": {"field": "start", "type": "quantitative", "scale": {"domain": [0, 21600], "nice": false, "zero": false}, "axis": null}, "x2": {"field": "end"},
                   "fill": {"field": "seg", "type": "ordinal", "scale": {"domain": [1,2,3,4,5,6,7,8,9,10,11], "range": ["#c8262b","#e8413f","#ee5b60","#f37a7a","#f4b8dc","#d9d7f7","#c9c3f5","#7f80ef","#5b4fe3","#2710cf","#3d0b86"]}, "legend": null}}}
              ]
            }
          ]
        }
      ]
    },
    {
      "spacing": 88,
      "resolve": {"scale": {"fill": "independent", "stroke": "independent"}, "legend": {"fill": "independent", "stroke": "independent"}},
      "hconcat": [
        {
          "title": {"text": "G", "anchor": "start", "frame": "bounds", "fontSize": 32, "offset": -29, "dx": -13},
          "spacing": 0,
          "vconcat": [
            {
              "title": {"text": "KEGG_PRIMARY_IMMUNODEFICIENCY", "fontSize": 27, "offset": 8, "dx": -9},
              "width": 548, "height": 250,
              "resolve": {"axis": {"y": "independent"}},
              "layer": [
                {"data": {"values": [{"a": -1350, "b": 0}]}, "mark": {"type": "rect", "color": "#ececec"},
                 "encoding": {"x": {"field": "a", "type": "quantitative", "scale": {"domain": [0, 21600], "nice": false, "zero": false}}, "x2": {"field": "b"}}},
                {"data": {"values": [{}]}, "mark": {"type": "rule", "color": "#a8a8a8", "strokeWidth": 1.5},
                 "encoding": {"y": {"datum": 0, "type": "quantitative", "scale": {"domain": [-0.725, 0.043], "nice": false, "zero": false}, "axis": {"orient": "left", "values": [-0.7,-0.6,-0.5,-0.4,-0.3,-0.2,-0.1,0], "grid": true, "labels": false, "ticks": false, "domain": false, "title": null, "zindex": 0}}}},
                {"data": {"name": "esG"}, "mark": {"type": "line", "color": "#2cf02c", "strokeWidth": 3},
                 "encoding": {
                   "x": {"field": "r", "type": "quantitative", "scale": {"domain": [0, 21600], "nice": false, "zero": false}, "axis": {"values": [2500,5000,7500,10000,12500,15000,17500,20000], "labels": false, "ticks": false, "domain": false, "grid": true, "title": null, "zindex": 0}},
                   "y": {"field": "e", "type": "quantitative", "scale": {"domain": [-0.725, 0.043], "nice": false, "zero": false}, "axis": {"orient": "left", "values": [-0.7,-0.6,-0.5,-0.4,-0.3,-0.2,-0.1,0], "format": ".1f", "labelOverlap": false, "grid": false, "title": null, "zindex": 1}}}},
                {"data": {"values": [{}]}, "mark": {"type": "text", "align": "left", "baseline": "middle", "fontSize": 18, "fontWeight": "bold", "lineHeight": 27, "color": "#222222"},
                 "encoding": {"x": {"datum": 1774, "type": "quantitative", "scale": {"domain": [0, 21600], "nice": false, "zero": false}}, "text": {"value": ["NES=-1.69", "FDR=0.240", "NOR p value=0.024"]},
                   "y": {"datum": -0.43, "type": "quantitative", "scale": {"domain": [-0.725, 0.043], "nice": false, "zero": false}, "axis": null}}}
              ]
            },
            {
              "width": 548, "height": 82,
              "layer": [
                {"data": {"values": [{"a": -1350, "b": 0}]}, "mark": {"type": "rect", "color": "#ececec"},
                 "encoding": {"x": {"field": "a", "type": "quantitative", "scale": {"domain": [0, 21600], "nice": false, "zero": false}, "axis": null}, "x2": {"field": "b"}}},
                {"data": {"name": "hits"}, "transform": [{"filter": "datum.p == 'G'"}, {"flatten": ["r"]}], "mark": {"type": "rule", "color": "#1c1c1c", "strokeWidth": 1.4},
                 "encoding": {"x": {"field": "r", "type": "quantitative", "scale": {"domain": [0, 21600], "nice": false, "zero": false}, "axis": null}}}
              ]
            },
            {
              "width": 548, "height": 21,
              "layer": [
                {"data": {"values": [{"a": -1350, "b": 0}]}, "mark": {"type": "rect", "color": "#ececec"},
                 "encoding": {"x": {"field": "a", "type": "quantitative", "scale": {"domain": [0, 21600], "nice": false, "zero": false}, "axis": null}, "x2": {"field": "b"}}},
                {"data": {"name": "bar"}, "mark": {"type": "rect"},
                 "encoding": {"x": {"field": "start", "type": "quantitative", "scale": {"domain": [0, 21600], "nice": false, "zero": false}, "axis": null}, "x2": {"field": "end"},
                   "fill": {"field": "seg", "type": "ordinal", "scale": {"domain": [1,2,3,4,5,6,7,8,9,10,11], "range": ["#c8262b","#e8413f","#ee5b60","#f37a7a","#f4b8dc","#d9d7f7","#c9c3f5","#7f80ef","#5b4fe3","#2710cf","#3d0b86"]}, "legend": null}}}
              ]
            }
          ]
        },
        {
          "title": {"text": "H", "anchor": "start", "frame": "bounds", "fontSize": 32, "offset": -22, "dx": -59},
          "width": 731, "height": 214,
          "view": {"stroke": null},
          "layer": [
            {"data": {"values": [{"a": -1770, "b": 21570, "c": -0.884, "d": 1.129}]}, "mark": {"type": "rect", "color": "#ececec"},
             "encoding": {"x": {"field": "a", "type": "quantitative", "scale": {"domain": [0, 21570], "nice": false, "zero": false}}, "x2": {"field": "b"}, "y": {"field": "c", "type": "quantitative", "scale": {"domain": [-0.487, 1.057], "nice": false, "zero": false}}, "y2": {"field": "d"}}},
            {"data": {"values": [{"a": 0, "b": 21570, "c": -0.487, "d": 1.115}]}, "mark": {"type": "rect", "color": "#ffffff", "stroke": "#a8a8a8", "strokeWidth": 1},
             "encoding": {"x": {"field": "a", "type": "quantitative", "scale": {"domain": [0, 21570], "nice": false, "zero": false}}, "x2": {"field": "b"}, "y": {"field": "c", "type": "quantitative", "scale": {"domain": [-0.487, 1.057], "nice": false, "zero": false}}, "y2": {"field": "d"}}},
            {"data": {"name": "metric"}, "mark": {"type": "area", "color": "#b3b3b3", "interpolate": "monotone", "strokeWidth": 0.5},
             "encoding": {
               "x": {"field": "r", "type": "quantitative", "scale": {"domain": [0, 21570], "nice": false, "zero": false},
                     "axis": {"values": [0,2500,5000,7500,10000,12500,15000,17500,20000], "format": ",d", "labelFontSize": 19, "labelColor": "#222222", "tickSize": 4, "labelPadding": 4, "grid": true, "gridDash": [2, 3], "gridColor": "#d4d4d4", "domainColor": "#999999", "title": "Rank in Ordered Dataset", "titleFontSize": 20, "titleFontWeight": "normal", "titleColor": "#222222", "titlePadding": 4, "zindex": 1}},
               "y": {"field": "s", "type": "quantitative", "scale": {"domain": [-0.487, 1.057], "nice": false, "zero": false},
                     "axis": {"values": [-0.25,0,0.25,0.5,0.75,1], "format": ".2f", "labelFontSize": 19, "labelColor": "#222222", "tickSize": 4, "labelPadding": 4, "grid": true, "gridDash": [2, 3], "gridColor": "#d4d4d4", "domainColor": "#999999", "title": null, "zindex": 1}},
               "y2": {"datum": 0},
               "stroke": {"datum": "Ranking metric scores", "type": "nominal",
                          "scale": {"domain": ["Enrichment profile", "Hits", "Ranking metric scores"], "range": ["#22e822", "#111111", "#c8c8c8"]},
                          "legend": {"orient": "none", "legendX": 31, "legendY": 320, "direction": "horizontal", "title": null, "symbolType": "stroke", "symbolStrokeWidth": 3, "symbolSize": 600, "labelFontSize": 22, "labelLimit": 400, "labelColor": "#222222", "labelFont": "Liberation Sans", "strokeColor": "#222222", "fillColor": "#ffffff", "padding": 6, "columnPadding": 26}}}},
            {"data": {"values": [{}]}, "mark": {"type": "rule", "color": "#8a8a8a", "strokeDash": [6, 4], "strokeWidth": 1},
             "encoding": {"x": {"datum": 8675, "type": "quantitative", "scale": {"domain": [0, 21570], "nice": false, "zero": false}}}},
            {"data": {"values": [{}]}, "mark": {"type": "text", "align": "left", "baseline": "middle", "fontSize": 17, "color": "#e8262e"},
             "encoding": {"x": {"datum": 118, "type": "quantitative", "scale": {"domain": [0, 21570], "nice": false, "zero": false}}, "y": {"datum": 1.043, "type": "quantitative", "scale": {"domain": [-0.487, 1.057], "nice": false, "zero": false}}, "text": {"value": "'amp' (positively correlated)"}}},
            {"data": {"values": [{}]}, "mark": {"type": "text", "align": "center", "baseline": "middle", "fontSize": 15, "color": "#333333"},
             "encoding": {"x": {"datum": 8646, "type": "quantitative", "scale": {"domain": [0, 21570], "nice": false, "zero": false}}, "y": {"datum": 0.307, "type": "quantitative", "scale": {"domain": [-0.487, 1.057], "nice": false, "zero": false}}, "text": {"value": "Zero cross at 8675"}}},
            {"data": {"values": [{}]}, "mark": {"type": "text", "align": "left", "baseline": "middle", "fontSize": 17, "color": "#3c3ce6"},
             "encoding": {"x": {"datum": 10800, "type": "quantitative", "scale": {"domain": [0, 21570], "nice": false, "zero": false}}, "y": {"datum": -0.386, "type": "quantitative", "scale": {"domain": [-0.487, 1.057], "nice": false, "zero": false}}, "text": {"value": "'nor' (negatively correlated)"}}}
          ]
        }
      ]
    }
  ]
}
